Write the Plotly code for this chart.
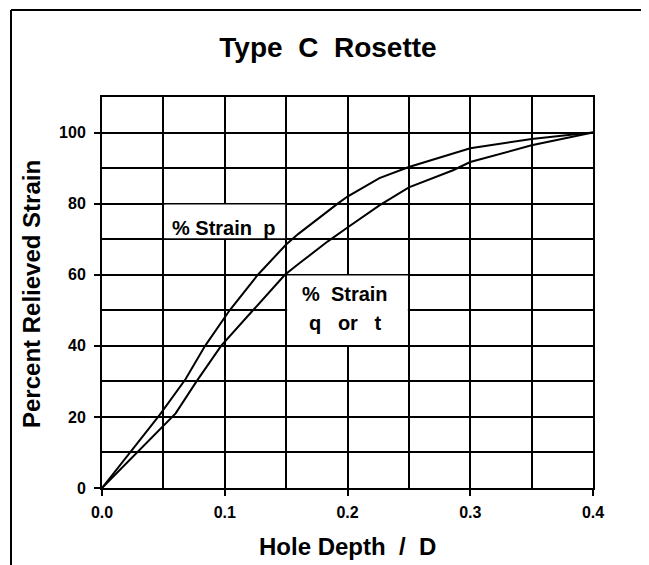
import plotly.graph_objects as go

# Upper curve: % Strain p
p_depth = [0.0, 0.023, 0.047, 0.068, 0.084, 0.104, 0.127, 0.15, 0.16, 0.192, 0.2, 0.226, 0.25, 0.3, 0.35, 0.38, 0.4]
p_strain = [0, 10, 20.6, 30.6, 40, 50, 60, 68.5, 71.5, 80, 82, 87.2, 90.3, 95.6, 98.2, 99.3, 100]

# Lower curve: % Strain q or t
q_depth = [0.0, 0.047, 0.06, 0.077, 0.097, 0.123, 0.149, 0.16, 0.184, 0.2, 0.226, 0.25, 0.286, 0.3, 0.35, 0.4]
q_strain = [0, 16.3, 21, 30, 40, 50, 60, 63, 69.4, 73.3, 79.5, 84.6, 89.4, 91.7, 96.4, 100]

x_ticks = [0.0, 0.1, 0.2, 0.3, 0.4]
x_ticklabels = ["0.0", "0.1", "0.2", "0.3", "0.4"]
y_ticks = [0, 20, 40, 60, 80, 100]
y_ticklabels = ["0", "20", "40", "60", "80", "100"]

FONT = "Liberation Sans, Arial, sans-serif"
NB = "\u00a0"

fig = go.Figure()
fig.add_trace(go.Scatter(x=p_depth, y=p_strain, mode="lines",
                         line=dict(color="black", width=2), name="% Strain p"))
fig.add_trace(go.Scatter(x=q_depth, y=q_strain, mode="lines",
                         line=dict(color="black", width=2), name="% Strain q or t"))

# The page body has an 8px default margin, so the figure is drawn 8px in from
# the window's top-left corner: size it to fill the rest of the 649x565 window.
OFF = 8
W, H = 649 - OFF, 565 - OFF
# plot area in window pixels: x 102..593, y 97..488
L, T = 102 - OFF, 97 - OFF
R, B = W - (593 - OFF), H - (488 - OFF)
pw, ph = W - L - R, H - T - B


def px2paper_x(px):
    return (px - OFF - L) / pw


def px2paper_y(py):
    return (H - B - (py - OFF)) / ph


# white label boxes (cover grid inside the label cells)
for (x0, x1, y0, y1) in [(0.05, 0.15, 70, 80), (0.15, 0.25, 40, 60)]:
    fig.add_shape(type="rect", xref="x", yref="y", x0=x0 + 0.0008, x1=x1 - 0.0008,
                  y0=y0 + 0.25, y1=y1 - 0.25, fillcolor="white", line=dict(width=0), layer="above")

lab_font = dict(family=FONT, size=20, color="black", weight="bold")
fig.add_annotation(x=0.0986, y=73.2, xref="x", yref="y", text="%" + NB + "Strain" + NB + NB + "p",
                   showarrow=False, yanchor="middle", font=lab_font)
fig.add_annotation(x=0.198, y=54.7, xref="x", yref="y", text="%" + NB + NB + "Strain",
                   showarrow=False, yanchor="middle", font=lab_font)
fig.add_annotation(x=0.198, y=46.5, xref="x", yref="y", text="q" + NB * 3 + "or" + NB * 3 + "t",
                   showarrow=False, yanchor="middle", font=lab_font)

# axis titles
fig.add_annotation(x=px2paper_x(347), y=px2paper_y(546), xref="paper", yref="paper",
                   text="Hole Depth" + NB + NB + "/" + NB + NB + "D",
                   showarrow=False, xanchor="center", yanchor="middle",
                   font=dict(family=FONT, size=24, color="black", weight="bold"))
fig.add_annotation(x=px2paper_x(31), y=px2paper_y(294), xref="paper", yref="paper",
                   text="Percent Relieved Strain", textangle=-90, showarrow=False,
                   xanchor="center", yanchor="middle",
                   font=dict(family=FONT, size=24, color="black", weight="bold"))

# outer frame (top and left edges of the scanned box)
fig.add_shape(type="line", xref="paper", yref="paper", x0=px2paper_x(11), x1=px2paper_x(11),
              y0=px2paper_y(10), y1=px2paper_y(570), line=dict(color="black", width=2))
fig.add_shape(type="line", xref="paper", yref="paper", x0=px2paper_x(11), x1=px2paper_x(655),
              y0=px2paper_y(10), y1=px2paper_y(10), line=dict(color="black", width=2))

fig.update_layout(
    width=W, height=H,
    margin=dict(l=L, r=R, t=T, b=B),
    paper_bgcolor="white", plot_bgcolor="white",
    showlegend=False,
    title=dict(text="Type" + NB + NB + "C" + NB + NB + "Rosette", x=px2paper_x(328), xref="paper",
               y=1 - (47 - OFF) / H, yref="container", xanchor="center", yanchor="middle",
               font=dict(family=FONT, size=28, color="black", weight="bold")),
)
fig.update_xaxes(range=[0, 0.4], tickvals=x_ticks, ticktext=x_ticklabels,
                 showgrid=True, gridcolor="black", gridwidth=1.5,
                 minor=dict(dtick=0.05, showgrid=True, gridcolor="black", gridwidth=1.5, ticks=""),
                 showline=True, linecolor="black", linewidth=2, mirror=True,
                 ticks="outside", ticklen=6, tickcolor="black", tickwidth=1.5,
                 ticklabelstandoff=3,
                 tickfont=dict(family=FONT, size=16, color="black", weight="bold"),
                 zeroline=False, fixedrange=True)
fig.update_yaxes(range=[0, 110], tickvals=y_ticks, ticktext=y_ticklabels,
                 showgrid=True, gridcolor="black", gridwidth=1.5,
                 minor=dict(dtick=10, showgrid=True, gridcolor="black", gridwidth=1.5, ticks=""),
                 showline=True, linecolor="black", linewidth=2, mirror=True,
                 ticks="outside", ticklen=6, tickcolor="black", tickwidth=1.5,
                 ticklabelstandoff=5,
                 tickfont=dict(family=FONT, size=16, color="black", weight="bold"),
                 zeroline=False, fixedrange=True)

fig.write_html("out.html")
